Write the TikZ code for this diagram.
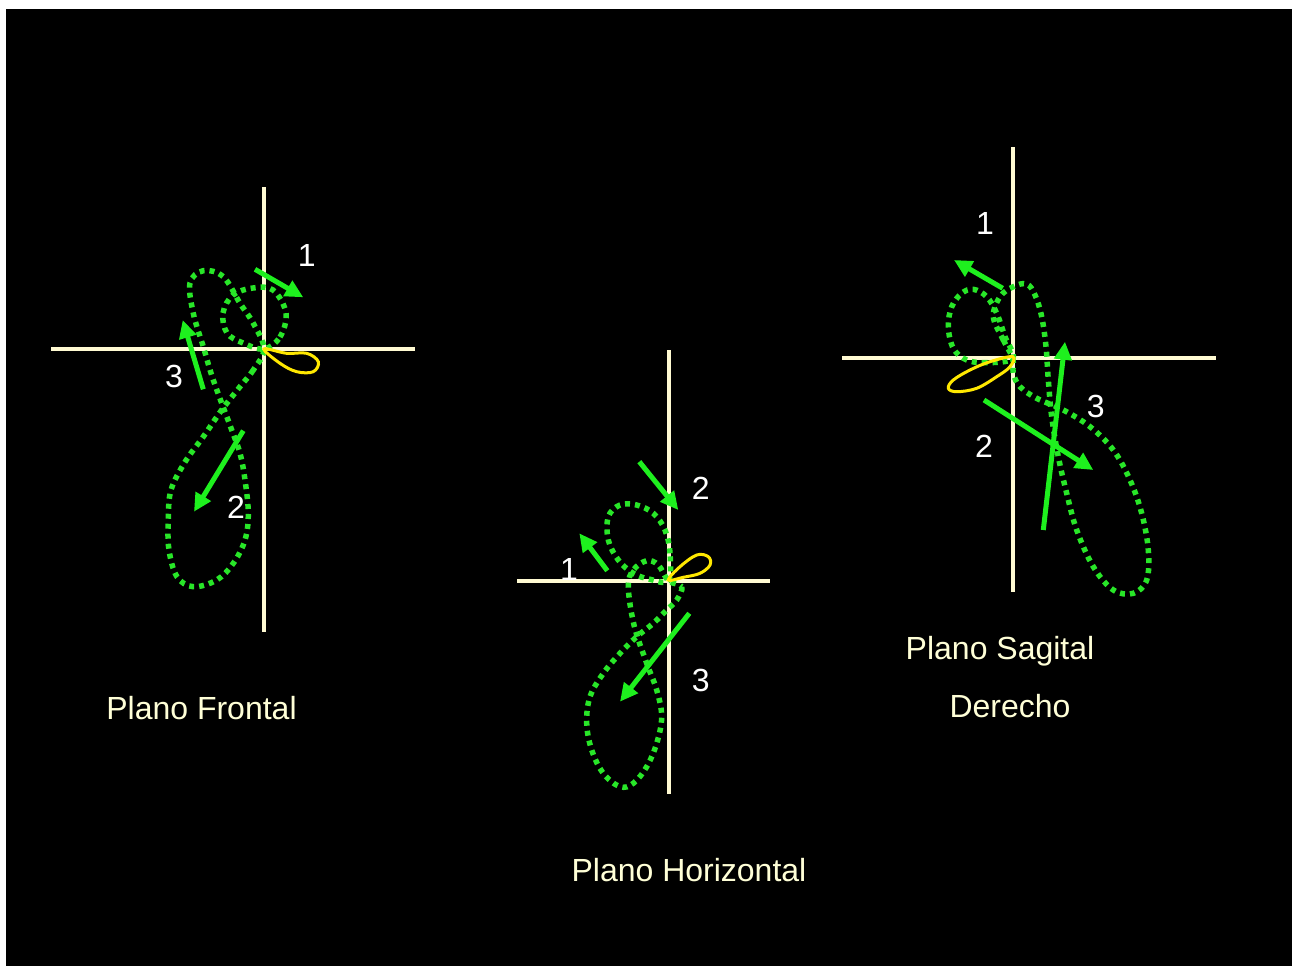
\documentclass[tikz,border=0pt]{standalone}
\usepackage{fontspec}
\setmainfont{Liberation Sans}
\usetikzlibrary{arrows.meta}
\definecolor{axiscol}{RGB}{255,250,210}
\definecolor{txtcol}{RGB}{255,255,215}
\definecolor{dotgreen}{RGB}{40,230,40}
\definecolor{arrgreen}{RGB}{30,240,30}
\definecolor{loopyellow}{RGB}{255,232,0}
\tikzset{
  axisline/.style={draw=axiscol, line width=4pt},
  dotpath/.style={draw=dotgreen, line width=5.5pt, dash pattern=on 5pt off 5pt},
  yloop/.style={draw=loopyellow, line width=3pt},
  garrow/.style={draw=arrgreen, line width=5pt, -{Triangle[length=18pt,width=17pt]}},
  lbl/.style={text=txtcol, font=\fontsize{32}{38}\selectfont, inner sep=0pt, anchor=base},
  num/.style={text=white, font=\fontsize{32}{38}\selectfont, inner sep=0pt}
}
\begin{document}
\begin{tikzpicture}[x=1pt,y=-1pt]
\useasboundingbox (0,0) rectangle (1292,966);
\fill[white] (0,0) rectangle (1292,966);
\fill[black] (6,9) rectangle (1292,966);

% ---------- Plano Frontal ----------
\draw[axisline] (264,187) -- (264,632);
\draw[axisline] (51,349) -- (415,349);
\draw[dotpath] plot[smooth cycle, tension=0.6] coordinates {
 (264,349) (253.3,370) (240,386.7) (221.7,410) (203.3,436.7) (185,462)
 (171,490) (168.3,520) (169,550) (177,576.7) (193.3,586.7) (216.7,580) (233.3,563.3)
 (245,540) (248.3,513.3) (245,480) (240,453.3) (231,428) (213.3,380) (203.3,346.7)
 (193.3,313.3) (190,283) (203.3,270.7) (223.3,276.7) (240,303.3) (253.3,323.3)};
\draw[dotpath] plot[smooth cycle, tension=0.6] coordinates {
 (264,349) (280,337) (286,313) (273,290) (253,288) (233,295) (223,313) (227,333) (243,343)};
\draw[yloop] plot[smooth cycle, tension=0.6] coordinates {
 (264,349) (286.7,353.3) (306.7,353.3) (318.3,361.7) (313.3,371.7) (296.7,371.7) (280,363.3)};
\coordinate (f1a) at (255,269.3);  \coordinate (f1b) at (303.3,297.3);
\coordinate (f3a) at (203.3,389.3); \coordinate (f3b) at (182.7,320);
\coordinate (f2a) at (243.3,430.7); \coordinate (f2b) at (194,511.7);
\draw[garrow] (f1a) -- (f1b);
\draw[garrow] (f3a) -- (f3b);
\draw[garrow] (f2a) -- (f2b);
\node[num] (fn1) at (306.7,255) {1};
\node[num] (fn3) at (174,376) {3};
\node[num] (fn2) at (236,507.3) {2};
\node[lbl] (ft) at (201.5,719) {Plano Frontal};

% ---------- Plano Horizontal ----------
\draw[axisline] (669,350) -- (669,794);
\draw[axisline] (517,581) -- (770,581);
\draw[dotpath] plot[smooth cycle, tension=0.6] coordinates {
 (668.3,580.7) (670,553.3) (665,530) (653.3,513.3) (636.7,505) (620,505) (608.3,516.7)
 (608.3,540) (618.3,560) (633.3,573.3) (650,579.3)};
\draw[dotpath] plot[smooth cycle, tension=0.6] coordinates {
 (668.3,580.7) (681.7,586.7) (676.7,600) (666.7,610) (653.3,623.3) (636.7,636.7) (620,653.3)
 (603.3,673.3) (590,696.7) (586.7,723.3) (591.7,750) (603.3,773.3) (620,786.7) (633.3,783.3)
 (646.7,766.7) (656.7,743.3) (661.7,716.7) (656.7,690) (646.7,663.3) (634,625)
 (628.3,586.7) (633.3,570) (646.7,560.7) (658.3,565)};
\draw[yloop] plot[smooth cycle, tension=0.6] coordinates {
 (668.3,580) (680,566.7) (696.7,555) (708.3,556.7) (710,565) (700,573.3) (683.3,577.3)};
\coordinate (h2a) at (639.3,461.7); \coordinate (h2b) at (678.3,510);
\coordinate (h1a) at (607.3,570.7); \coordinate (h1b) at (579.3,533.3);
\coordinate (h3a) at (689.3,613.3); \coordinate (h3b) at (620,701.7);
\draw[garrow] (h2a) -- (h2b);
\draw[garrow] (h1a) -- (h1b);
\draw[garrow] (h3a) -- (h3b);
\node[num] (hn2) at (700.7,488.3) {2};
\node[num] (hn1) at (569,569.3) {1};
\node[num] (hn3) at (700.7,680) {3};
\node[lbl] (ht) at (689,881) {Plano Horizontal};

% ---------- Plano Sagital Derecho ----------
\draw[axisline] (1013,147) -- (1013,592);
\draw[axisline] (842,358) -- (1216,358);
\draw[dotpath] plot[smooth cycle, tension=0.6] coordinates {
 (1012.7,358.3) (1003.3,340) (993.3,316.7) (1000,296.7) (1013.3,286.7) (1026.7,284)
 (1035,295) (1041.7,316.7) (1046,346.7) (1048.3,380) (1051.7,416.7) (1058.3,456.7)
 (1066.7,493.3) (1076.7,530) (1093.3,566.7) (1113.3,590) (1133.3,593.3) (1146.7,580)
 (1148.3,550) (1141.7,513.3) (1130,480) (1113.3,450) (1090,426.7) (1063.3,410)
 (1036.7,398.3) (1020,386.7) (1013.3,373.3)};
\draw[dotpath] plot[smooth cycle, tension=0.6] coordinates {
 (1012.7,358.3) (986.7,362.7) (966.7,360) (953.3,348.3) (948.3,326.7) (951.7,306.7)
 (961.7,293.3) (973.3,289.3) (986.7,296.7) (996.7,313.3) (1005,336.7)};
\draw[yloop] plot[smooth cycle, tension=0.6] coordinates {
 (1012.7,356.7) (990,361.7) (970,370) (953.3,380) (948.3,388.3) (956.7,391.7)
 (976.7,388.3) (996.7,376.7) (1010,366.7)};
\coordinate (s1a) at (1002.7,288.3); \coordinate (s1b) at (954,260);
\coordinate (s2a) at (984,400);     \coordinate (s2b) at (1093.3,470);
\coordinate (s3a) at (1043.3,530);  \coordinate (s3b) at (1065,341.7);
\draw[garrow] (s1a) -- (s1b);
\draw[garrow] (s2a) -- (s2b);
\draw[garrow] (s3a) -- (s3b);
\node[num] (sn1) at (985,223) {1};
\node[num] (sn2) at (984,446.7) {2};
\node[num] (sn3) at (1095.7,406.7) {3};
\node[lbl] (st1) at (1000,659) {Plano Sagital};
\node[lbl] (st2) at (1010,717) {Derecho};
\end{tikzpicture}
\end{document}
